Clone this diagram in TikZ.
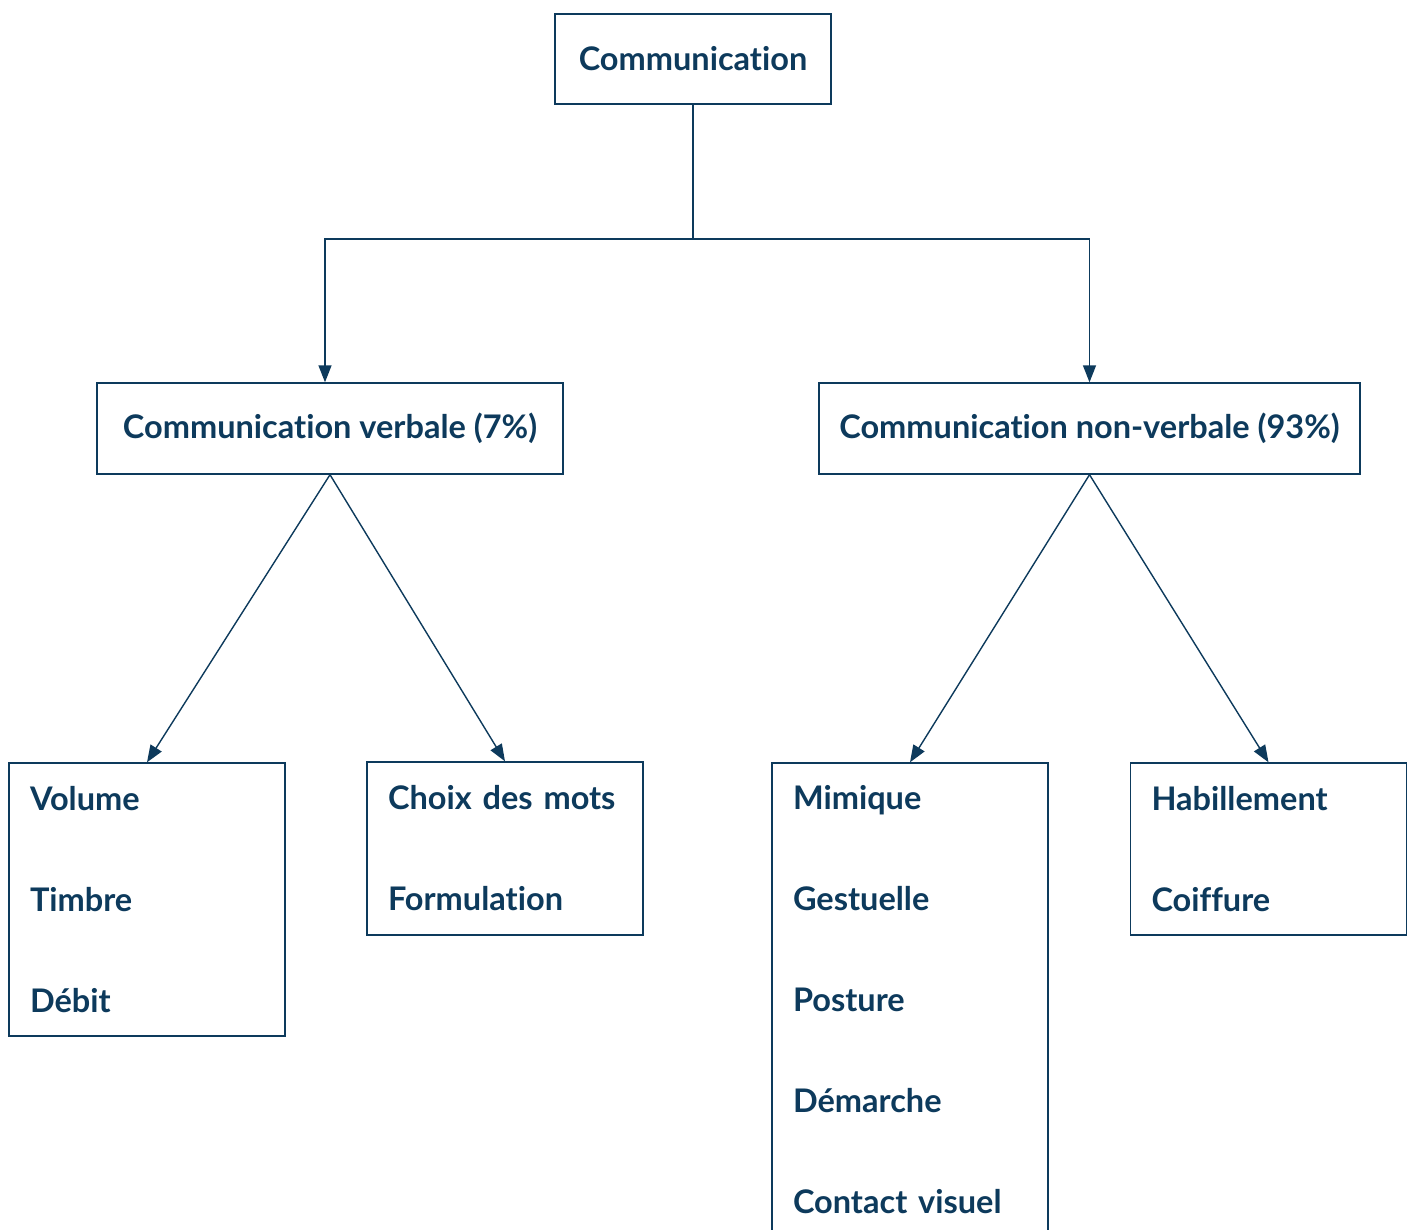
\documentclass[tikz,border=0pt]{standalone}
\usepackage{fontspec}
\setmainfont{Lato}[Ligatures=NoCommon]
\usetikzlibrary{arrows.meta}
\definecolor{navy}{HTML}{0D3A5C}
\begin{document}
\begin{tikzpicture}[x=1pt,y=-1pt,
  box/.style={draw=navy,line width=1.4pt,rectangle,inner sep=0pt,text=navy,
    font=\fontsize{32.5}{38}\selectfont\bfseries},
  listbox/.style={box,minimum width=276pt,text width=234pt,inner xsep=21pt,align=left,
    font=\fontsize{32.5}{101}\selectfont\bfseries},
  conn/.style={draw=navy,line width=1.4pt},
  arr/.style={conn,-{Triangle[length=17pt,width=13pt]}}]
\useasboundingbox (0,0) rectangle (1413,1229);
\clip (0,0) rectangle (1413,1229);
\node[box,minimum width=276pt,minimum height=90pt] (comm) at (693,59) {Communication};
\node[box,minimum width=466pt,minimum height=91pt] (verb) at (330,428.5) {Communication verbale (7\%)};
\node[box,minimum width=541pt,minimum height=91pt] (nonv) at (1089.5,428.5) {Communication non-verbale (93\%)};
\node[listbox,minimum height=273pt] (vol) at (147,899.5) {Volume\\Timbre\\Débit};
\node[listbox,minimum height=173pt] (choix) at (505,848.5) {Choix des mots\\Formulation};
\node[listbox,minimum height=474pt] (mim) at (910,1000) {Mimique\\Gestuelle\\Posture\\Démarche\\Contact visuel};
\node[listbox,minimum height=172pt] (hab) at (1268.5,849) {Habillement\\Coiffure};
\coordinate (j) at (693,239);
\draw[conn] (comm.south) -- (j);
\draw[arr] (j) -| ([xshift=-5pt]verb.north);
\draw[arr] (j) -| (nonv.north);
\draw[arr] (verb.south) -- (vol.north);
\draw[arr] (verb.south) -- (choix.north);
\draw[arr] (nonv.south) -- (mim.north);
\draw[arr] (nonv.south) -- (hab.north);
\end{tikzpicture}
\end{document}
